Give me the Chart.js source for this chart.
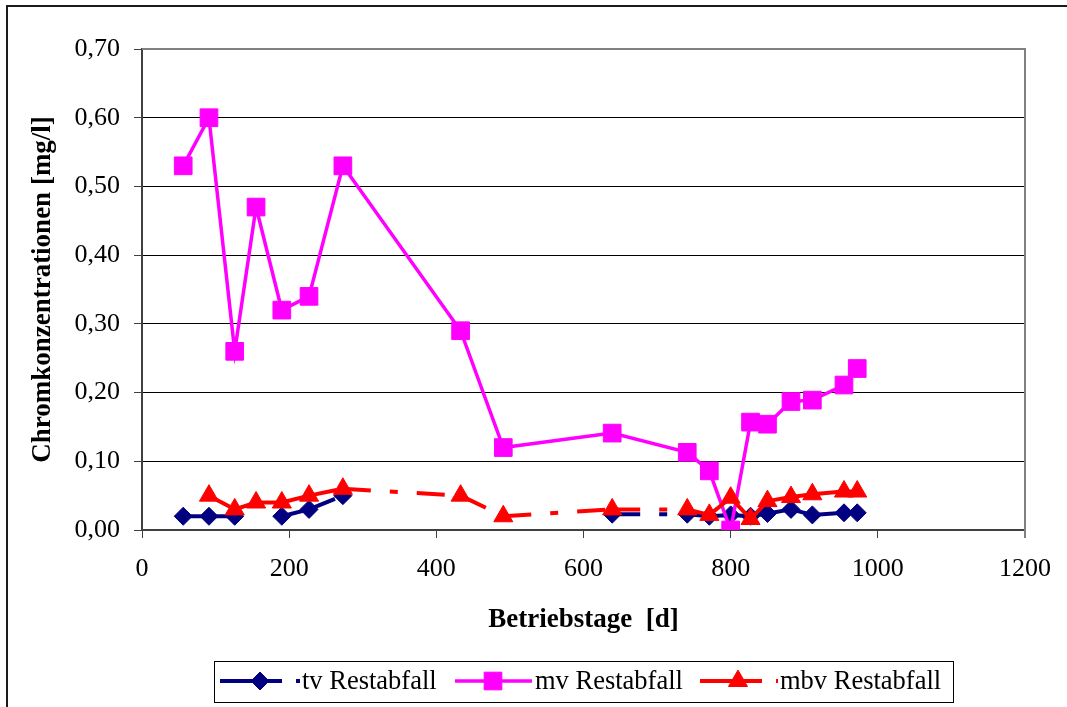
<!DOCTYPE html>
<html>
<head>
<meta charset="utf-8">
<script src="https://cdn.jsdelivr.net/npm/chart.js@4.4.0/dist/chart.umd.min.js"></script>
<style>
html, body { margin: 0; padding: 0; background: #fff; }
#wrap { width: 1067px; height: 707px; }
</style>
</head>
<body>
<div id="wrap"><canvas id="chrom" width="1067" height="707"></canvas></div>
<script>
// Betriebstage (x) and Chrom values per series
var days = [56, 91, 126, 155, 190, 227, 273, 433, 491, 639, 741, 771, 800, 827, 850, 882, 911, 954, 972];
var tvValues = [0.02, 0.02, 0.02, null, 0.02, 0.03, 0.05, null, null, 0.023, 0.023, 0.02, 0.022, 0.02, 0.024, 0.03, 0.022, 0.025, 0.025];
var mvValues = [0.53, 0.60, 0.26, 0.47, 0.32, 0.34, 0.53, 0.29, 0.12, 0.141, 0.113, 0.086, 0.00, 0.157, 0.154, 0.187, 0.189, 0.211, 0.235];
var mbvValues = [null, 0.05, 0.03, 0.04, 0.04, 0.05, 0.06, 0.05, 0.02, 0.03, 0.03, 0.022, 0.047, 0.016, 0.042, 0.048, 0.052, 0.056, 0.056];
var seriesNames = ["tv Restabfall", "mv Restabfall", "mbv Restabfall"];
var xTicks = [0, 200, 400, 600, 800, 1000, 1200];
var yTicks = [0, 0.1, 0.2, 0.3, 0.4, 0.5, 0.6, 0.7];

var serif = "'Liberation Serif', 'Times New Roman', serif";
var longDashDot = [28, 19, 8, 19];

function toPoints(vals) {
    var pts = [];
    for (var i = 0; i < days.length; i++) {
        pts.push({ x: days[i], y: vals[i] });
    }
    return pts;
}

// restart dash pattern on every segment (like Excel does)
var restartDash = {
    borderDashOffset: function(ctx) { return ctx.p0DataIndex % 2 ? 0.001 : 0; }
};

// frame round the chart and plot area edges
var framePlugin = {
    id: 'frame',
    beforeDraw: function(chart) {
        var c = chart.ctx;
        c.save();
        c.strokeStyle = '#1a1a1a';
        c.lineWidth = 2;
        c.beginPath();
        c.moveTo(7, 707);
        c.lineTo(7, 6);
        c.lineTo(1067, 6);
        c.stroke();
        c.restore();
    },
    afterDatasetsDraw: function(chart) {
        var a = chart.chartArea;
        var c = chart.ctx;
        c.save();
        c.strokeStyle = '#808080';
        c.lineWidth = 2;
        c.beginPath();
        c.moveTo(a.left, a.top);
        c.lineTo(a.right, a.top);
        c.lineTo(a.right, a.bottom + 8);
        c.stroke();
        c.restore();
    }
};

function drawMarker(c, style, x, y, r, color) {
    c.fillStyle = color;
    c.strokeStyle = color;
    c.lineWidth = 1;
    c.setLineDash([]);
    c.beginPath();
    if (style === 'rectRot') {
        c.moveTo(x - r, y); c.lineTo(x, y - r); c.lineTo(x + r, y); c.lineTo(x, y + r);
    } else if (style === 'rect') {
        var s = r * Math.SQRT1_2;
        c.rect(x - s, y - s, 2 * s, 2 * s);
    } else {
        c.moveTo(x, y - r);
        c.lineTo(x + r * 0.866, y + r / 2);
        c.lineTo(x - r * 0.866, y + r / 2);
    }
    c.closePath();
    c.fill();
    c.stroke();
}

var legendPlugin = {
    id: 'boxLegend',
    afterDraw: function(chart) {
        var c = chart.ctx;
        var cy = 681;
        var entries = [
            { x0: 220, x1: 300, mx: 260, tx: 302 },
            { x0: 455, x1: 532, mx: 493, tx: 535 },
            { x0: 700, x1: 778, mx: 738, tx: 780 }
        ];
        c.save();
        c.strokeStyle = '#000';
        c.lineWidth = 1;
        c.strokeRect(214.5, 661.5, 739, 41);
        c.font = '26.5px ' + serif;
        c.textBaseline = 'middle';
        c.textAlign = 'left';
        for (var i = 0; i < entries.length; i++) {
            var e = entries[i];
            var ds = chart.data.datasets[i];
            c.strokeStyle = ds.borderColor;
            c.lineWidth = ds.borderWidth;
            c.setLineDash(ds.borderDash && ds.borderDash.length ? [62, 14, 4, 200] : []);
            c.beginPath();
            c.moveTo(e.x0, cy);
            c.lineTo(e.x1, cy);
            c.stroke();
            drawMarker(c, ds.pointStyle, e.mx, cy, ds.pointRadius, ds.borderColor);
            c.fillStyle = '#000';
            c.fillText(seriesNames[i], e.tx, cy + 1);
        }
        c.restore();
    }
};

var chromChart = new Chart(document.getElementById('chrom'), {
    type: 'line',
    data: {
        datasets: [
            {
                label: seriesNames[0],
                data: toPoints(tvValues),
                borderColor: '#000080',
                backgroundColor: '#000080',
                borderWidth: 4,
                borderDash: longDashDot,
                segment: restartDash,
                pointStyle: 'rectRot',
                pointRadius: 9,
                pointBorderWidth: 1,
                spanGaps: false,
                order: 3
            },
            {
                label: seriesNames[1],
                data: toPoints(mvValues),
                borderColor: '#ff00ff',
                backgroundColor: '#ff00ff',
                borderWidth: 3.5,
                borderDash: [],
                pointStyle: 'rect',
                pointRadius: 12.5,
                pointBorderWidth: 1,
                order: 2
            },
            {
                label: seriesNames[2],
                data: toPoints(mbvValues),
                borderColor: '#ff0000',
                backgroundColor: '#ff0000',
                borderWidth: 4,
                borderDash: longDashDot,
                segment: restartDash,
                pointStyle: 'triangle',
                pointRadius: 11,
                pointBorderWidth: 1,
                spanGaps: false,
                order: 1
            }
        ]
    },
    options: {
        responsive: false,
        animation: false,
        layout: { padding: { top: 49, right: 41, bottom: 0, left: 0 } },
        plugins: {
            legend: { display: false },
            tooltip: { enabled: false }
        },
        elements: { line: { tension: 0, borderCapStyle: 'butt' } },
        scales: {
            x: {
                type: 'linear',
                min: 0,
                max: 1200,
                afterBuildTicks: function(s) { s.ticks = xTicks.map(function(v) { return { value: v }; }); },
                ticks: {
                    color: '#000',
                    padding: 16,
                    maxRotation: 0,
                    font: { family: serif, size: 26 },
                    callback: function(v) { return String(v); }
                },
                grid: { drawOnChartArea: false, tickLength: 8, color: '#404040', lineWidth: 1 },
                border: { color: '#404040', width: 2 },
                title: {
                    display: true,
                    text: 'Betriebstage  [d]',
                    color: '#000',
                    font: { family: serif, size: 27, weight: 'bold' },
                    padding: { top: 0, bottom: 71 }
                },
                afterFit: function(s) { s.height = 177; }
            },
            y: {
                min: 0,
                max: 0.7,
                afterBuildTicks: function(s) { s.ticks = yTicks.map(function(v) { return { value: v }; }); },
                ticks: {
                    color: '#000',
                    padding: 14,
                    font: { family: serif, size: 26 },
                    callback: function(v) { return v.toFixed(2).replace('.', ','); }
                },
                grid: {
                    tickLength: 8,
                    lineWidth: 1,
                    color: function(ctx) { return ctx.tick && ctx.tick.value >= 0.69 ? '#808080' : '#000'; },
                    tickColor: '#404040'
                },
                border: { color: '#404040', width: 2 },
                title: {
                    display: true,
                    text: 'Chromkonzentrationen [mg/l]',
                    color: '#000',
                    font: { family: serif, size: 27, weight: 'bold' },
                    padding: { top: 27, bottom: 0 }
                },
                afterFit: function(s) { s.width = 142; }
            }
        }
    },
    plugins: [framePlugin, legendPlugin]
});
</script>
</body>
</html>
